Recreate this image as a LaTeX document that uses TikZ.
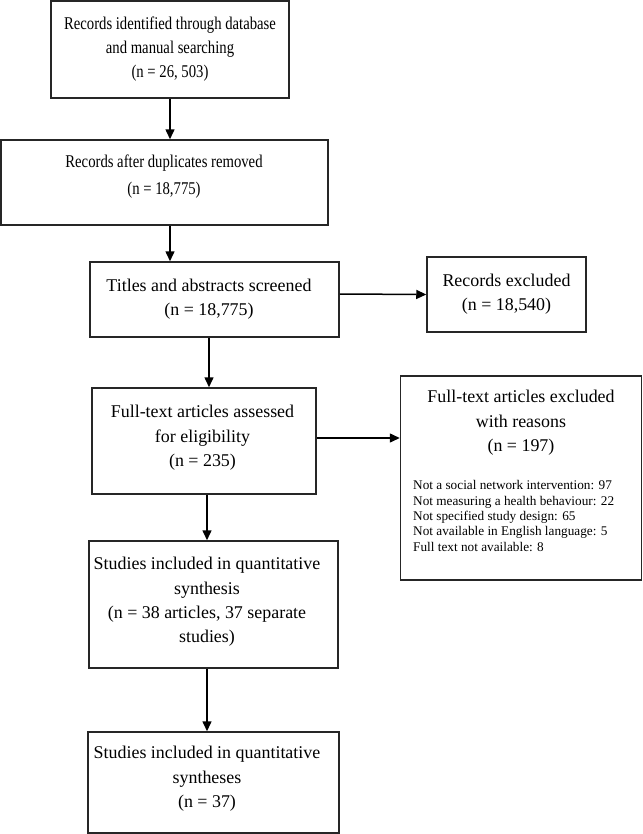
\documentclass[tikz,border=0pt]{standalone}
\usepackage{fontspec}
\setmainfont{Liberation Serif}
\newfontfamily\narrowfont[FakeStretch=0.82]{Liberation Serif}
\usetikzlibrary{arrows.meta}
\begin{document}
\begin{tikzpicture}[x=1bp,y=-1bp,
  box/.style={draw=black!85, line width=1.5bp, inner sep=0pt},
  txt/.style={align=center, font=\fontsize{18}{24.5}\selectfont, inner sep=0pt},
  ntxt/.style={align=center, font=\narrowfont\fontsize{18}{24}\selectfont, inner sep=0pt},
  small/.style={align=left, font=\fontsize{13.3}{15.5}\selectfont, inner sep=0pt},
  arr/.style={draw=black, line width=1.5bp, -{Triangle[length=10bp,width=9bp]}}]
\useasboundingbox (0,0) rectangle (643,834);
% boxes
\node[box, minimum width=238bp, minimum height=97bp] (b1) at (170,49.5) {};
\node[box, minimum width=327bp, minimum height=85bp] (b2) at (164.5,182.5) {};
\node[box, minimum width=249bp, minimum height=75bp] (b3) at (214.5,299.5) {};
\node[box, minimum width=159bp, minimum height=75bp] (b4) at (506.5,294.5) {};
\node[box, minimum width=224bp, minimum height=106bp] (b5) at (204,441) {};
\node[box, minimum width=241bp, minimum height=204bp] (b6) at (521,478) {};
\node[box, minimum width=249bp, minimum height=127bp] (b7) at (213.5,604.5) {};
\node[box, minimum width=251bp, minimum height=101bp] (b8) at (213.5,782.5) {};
% texts
\node[ntxt] (t1) at (170,49) {Records identified through database\\and manual searching\\(n = 26, 503)};
\node[ntxt] (t2) at (164,177) {Records after duplicates removed\\[3pt](n = 18,775)};
\node[txt] (t3) at (209,299) {Titles and abstracts screened\\(n = 18,775)};
\node[txt] (t4) at (506.5,294) {Records excluded\\(n = 18,540)};
\node[txt] (t5) at (202.5,438) {Full-text articles assessed\\for eligibility\\(n = 235)};
\node[txt] (t6) at (521,423) {Full-text articles excluded\\with reasons\\(n = 197)};
\node[small, anchor=west] (t6b) at (413,516) {Not a social network intervention: 97\\Not measuring a health behaviour: 22\\Not specified study design: 65\\Not available in English language: 5\\Full text not available: 8};
\node[txt] (t7) at (207,602) {Studies included in quantitative\\synthesis\\(n = 38 articles, 37 separate\\studies)};
\node[txt] (t8) at (207,779) {Studies included in quantitative\\syntheses\\(n = 37)};
% arrows
\draw[arr] (b1.south) -- (b1.south |- b2.north);
\draw[arr] (b1.south |- b2.south) -- (b1.south |- b3.north);
\draw[arr] (t3.center |- b3.south) -- (t3.center |- b5.north);
\draw[arr] (t4 -| b3.east) -- (b4.west);
\draw[arr] (t5 -| b5.east) -- (t5 -| b6.west);
\draw[arr] (t7.center |- b5.south) -- (t7.center |- b7.north);
\draw[arr] (t7.center |- b7.south) -- (t7.center |- b8.north);
\end{tikzpicture}
\end{document}
